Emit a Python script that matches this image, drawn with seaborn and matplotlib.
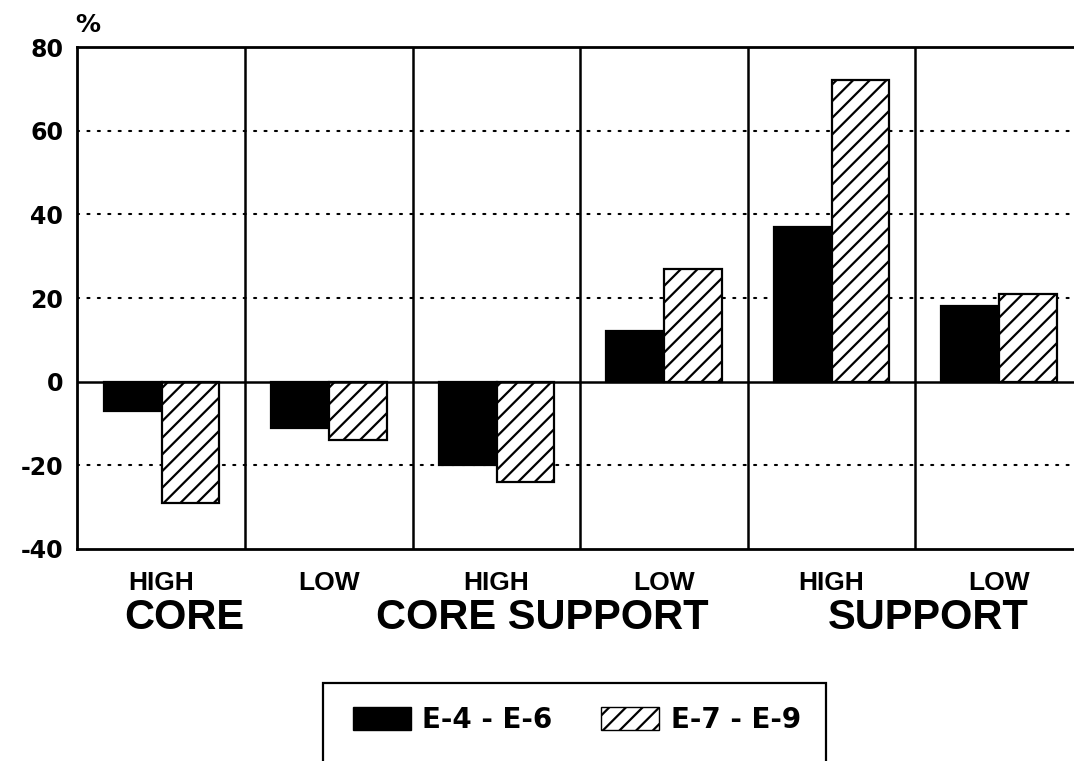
import pandas as pd
import seaborn as sns
import matplotlib.pyplot as plt
from matplotlib.patches import Patch, Rectangle

# data (% change)
slots = ["CORE HIGH", "CORE LOW", "CORE SUPPORT HIGH", "CORE SUPPORT LOW",
         "SUPPORT HIGH", "SUPPORT LOW"]
tick_labels = ["HIGH", "LOW", "HIGH", "LOW", "HIGH", "LOW"]
groups = ["CORE", "CORE SUPPORT", "SUPPORT"]
series_names = ["E-4 - E-6", "E-7 - E-9"]
e4_e6 = [-7, -11, -20, 12, 37, 18]
e7_e9 = [-29, -14, -24, 27, 72, 21]
y_ticks = [-40, -20, 0, 20, 40, 60, 80]

df = pd.DataFrame({
    "slot": slots * 2,
    "grade": [series_names[0]] * 6 + [series_names[1]] * 6,
    "value": e4_e6 + e7_e9,
})

sns.set_style("white")
plt.rcParams["font.family"] = ["Liberation Sans", "DejaVu Sans"]
plt.rcParams["font.weight"] = "bold"
plt.rcParams["hatch.linewidth"] = 1.6
for key in ["text.color", "axes.labelcolor", "xtick.color", "ytick.color"]:
    plt.rcParams[key] = "black"

fig = plt.figure(figsize=(10.74, 7.61), dpi=100)
ax = fig.add_axes([0.0717, 0.2786, 1 - 0.0717, 0.9382 - 0.2786])

sns.barplot(data=df, x="slot", y="value", hue="grade", order=slots,
            hue_order=series_names, palette=["black", "white"],
            edgecolor="black", linewidth=1.6, width=0.69, ax=ax,
            legend=False, zorder=3)
for bar in ax.containers[1]:
    bar.set_hatch("//")

ax.set_ylim(-40, 80)
ax.set_yticks(y_ticks)
ax.set_yticklabels([str(t) for t in y_ticks], fontsize=17, fontweight="bold",
                   family="DejaVu Sans")
ax.set_xticks(range(6))
ax.set_xticklabels(tick_labels, fontsize=19, fontweight="bold")
ax.set_xticks([k + 0.5 for k in range(-1, 6)], minor=True)
ax.tick_params(axis="both", which="both", direction="in", length=8,
               width=1.6, color="black")
ax.tick_params(axis="x", pad=16)
ax.tick_params(axis="y", pad=10, length=10)
ax.set_xlabel("")
ax.set_ylabel("")

for side in ["top", "bottom", "left"]:
    ax.spines[side].set_linewidth(2)
    ax.spines[side].set_color("black")
ax.spines["right"].set_visible(False)

# dotted grid and solid zero line
for t in [-20, 20, 40, 60]:
    ax.axhline(t, color="black", linestyle=(0, (1, 4)), linewidth=1.5,
               dash_capstyle="round", zorder=1)
ax.axhline(0, color="black", linewidth=1.8, zorder=4)

# panel separators
for k in range(5):
    ax.axvline(k + 0.5, color="black", linewidth=1.8, zorder=2)

ax.set_xlim(-0.505, 5.447)

ax.text(-0.002, 1.02, "%", transform=ax.transAxes, fontsize=18,
        fontweight="bold", ha="left", va="bottom", family="DejaVu Sans")

# group labels under the tick labels
for name, xpos in zip(groups, [0.134, 2.27, 4.58]):
    ax.text(xpos, -0.159, name, transform=ax.get_xaxis_transform(),
            fontsize=30, ha="center", va="baseline")

# legend with a box running off the bottom edge
handles = [Patch(facecolor="black", edgecolor="black"),
           Patch(facecolor="white", edgecolor="black", hatch="//")]
fig.legend(handles, series_names, loc="center", bbox_to_anchor=(0.537, 0.054),
           ncol=2, frameon=False, handlelength=2.1, handleheight=0.9,
           handletextpad=0.4, columnspacing=1.75,
           prop={"family": "DejaVu Sans", "weight": "bold", "size": 20})
fig.patches.append(Rectangle((323 / 1074, -0.05), (826 - 323) / 1074,
                             0.05 + (761 - 683) / 761, transform=fig.transFigure,
                             fill=False, edgecolor="black", linewidth=1.6))

fig.savefig("out.png", dpi=100)
